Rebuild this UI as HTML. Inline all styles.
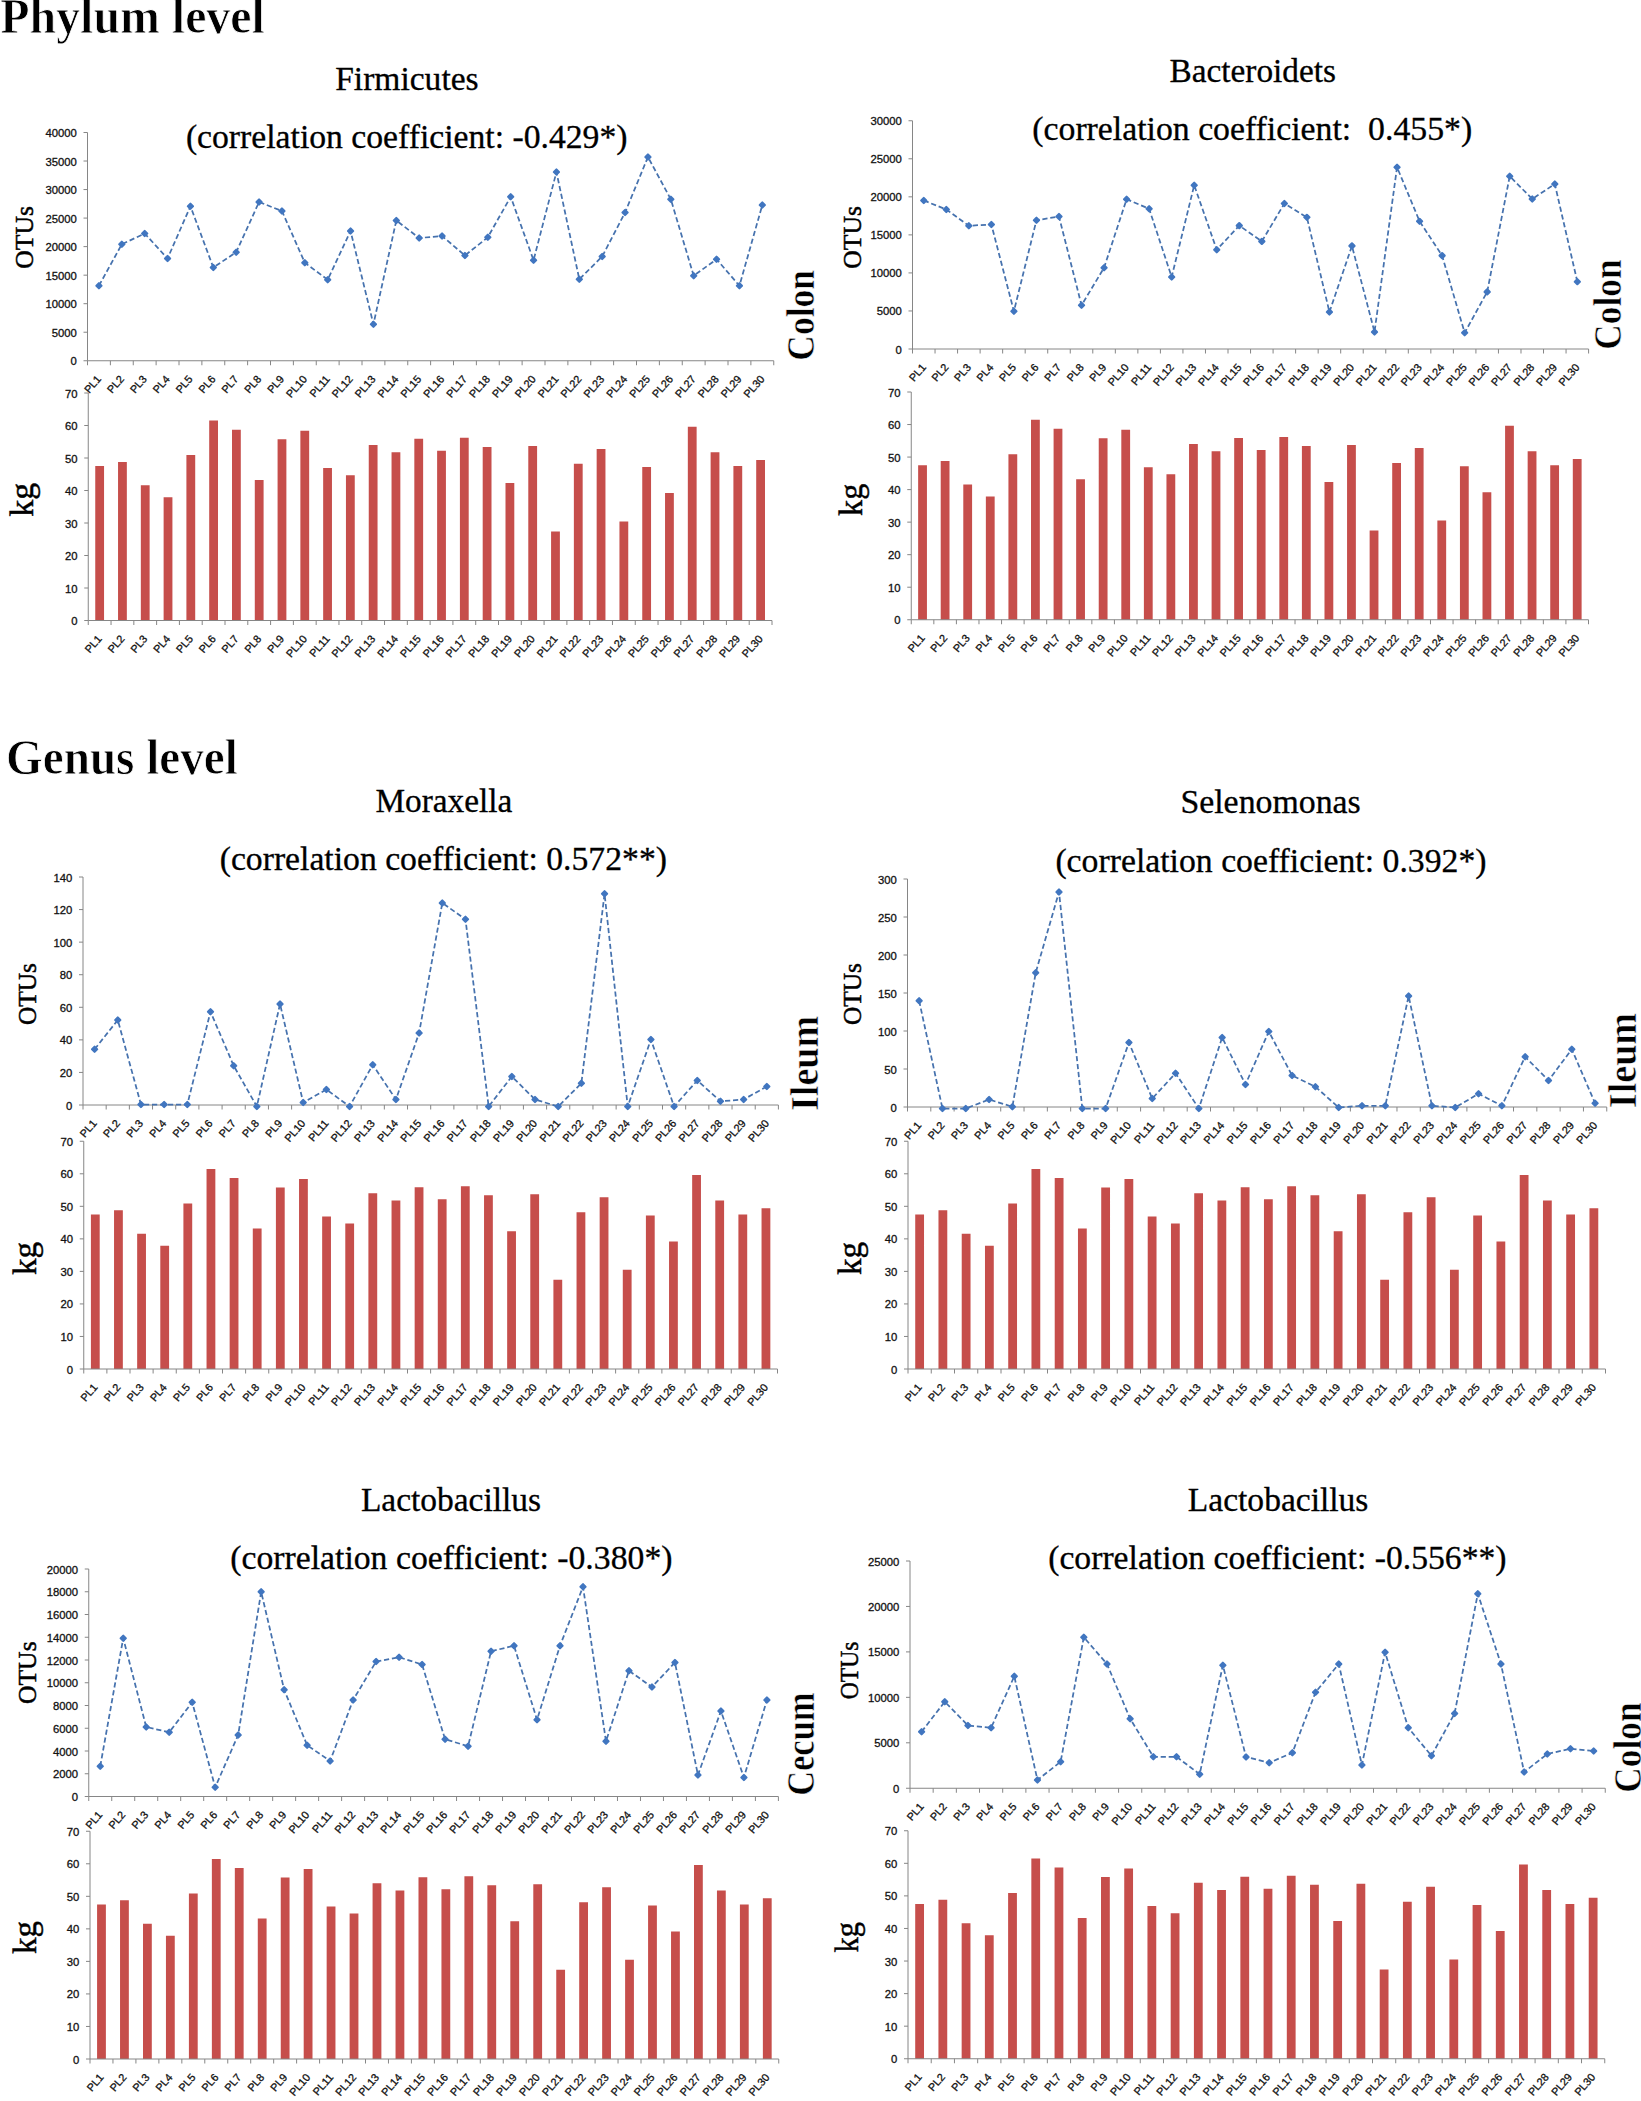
<!DOCTYPE html>
<html lang="en">
<head>
<meta charset="utf-8">
<title>Phylum and genus level correlations</title>
<style>
html,body{margin:0;padding:0;background:#fff}
body{width:1641px;height:2101px;overflow:hidden}
svg{display:block}
text{fill:#000}
.hd{font-family:"Liberation Serif","DejaVu Serif",serif;font-weight:bold;font-size:50px;stroke:#fff;stroke-width:.8px}
.ti{font-family:"Liberation Serif","DejaVu Serif",serif;font-size:33px;stroke:#000;stroke-width:.3px}
.yl{font-family:"Liberation Serif","DejaVu Serif",serif;font-size:25.5px;stroke:#000;stroke-width:.5px}
.kg{font-family:"Liberation Serif","DejaVu Serif",serif;font-size:33px;stroke:#000;stroke-width:.45px}
.sd{font-family:"Liberation Serif","DejaVu Serif",serif;font-weight:bold;font-size:40px;stroke:#fff;stroke-width:.6px}
.tk text{font-family:"Liberation Sans","DejaVu Sans",sans-serif;font-size:11.3px;fill:#111;stroke:#111;stroke-width:.3px}
.ct text{font-family:"Liberation Sans","DejaVu Sans",sans-serif;font-size:10.8px;fill:#111;stroke:#111;stroke-width:.3px}
</style>
</head>
<body>
<svg width="1641" height="2101" viewBox="0 0 1641 2101">
<rect width="1641" height="2101" fill="#fff"/>
<!-- Firmicutes Colon -->
<text class="ti" transform="translate(335.2 90.4) scale(1.0163 1)">Firmicutes</text>
<text class="ti" transform="translate(185.88 148.4) scale(1.0209 1)">(correlation coefficient: -0.429*)</text>
<path d="M87.5 132.5V360.75H773.75" fill="none" stroke="#868686" stroke-width="1"/>
<path d="M83.5 360.75H87.5M83.5 332.22H87.5M83.5 303.69H87.5M83.5 275.16H87.5M83.5 246.62H87.5M83.5 218.09H87.5M83.5 189.56H87.5M83.5 161.03H87.5M83.5 132.5H87.5M87.5 360.75V365.25M110.38 360.75V365.25M133.25 360.75V365.25M156.12 360.75V365.25M179 360.75V365.25M201.88 360.75V365.25M224.75 360.75V365.25M247.62 360.75V365.25M270.5 360.75V365.25M293.38 360.75V365.25M316.25 360.75V365.25M339.12 360.75V365.25M362 360.75V365.25M384.88 360.75V365.25M407.75 360.75V365.25M430.62 360.75V365.25M453.5 360.75V365.25M476.38 360.75V365.25M499.25 360.75V365.25M522.12 360.75V365.25M545 360.75V365.25M567.88 360.75V365.25M590.75 360.75V365.25M613.62 360.75V365.25M636.5 360.75V365.25M659.38 360.75V365.25M682.25 360.75V365.25M705.12 360.75V365.25M728 360.75V365.25M750.88 360.75V365.25M773.75 360.75V365.25" fill="none" stroke="#868686" stroke-width="1"/>
<g class="tk" text-anchor="end">
<text x="76.9" y="365.25">0</text>
<text x="76.9" y="336.72">5000</text>
<text x="76.9" y="308.19">10000</text>
<text x="76.9" y="279.66">15000</text>
<text x="76.9" y="251.12">20000</text>
<text x="76.9" y="222.59">25000</text>
<text x="76.9" y="194.06">30000</text>
<text x="76.9" y="165.53">35000</text>
<text x="76.9" y="137">40000</text>
</g>
<g class="ct" text-anchor="end">
<text transform="translate(101.74 379.45) rotate(-49)">PL1</text>
<text transform="translate(124.61 379.45) rotate(-49)">PL2</text>
<text transform="translate(147.49 379.45) rotate(-49)">PL3</text>
<text transform="translate(170.36 379.45) rotate(-49)">PL4</text>
<text transform="translate(193.24 379.45) rotate(-49)">PL5</text>
<text transform="translate(216.11 379.45) rotate(-49)">PL6</text>
<text transform="translate(238.99 379.45) rotate(-49)">PL7</text>
<text transform="translate(261.86 379.45) rotate(-49)">PL8</text>
<text transform="translate(284.74 379.45) rotate(-49)">PL9</text>
<text transform="translate(307.61 379.45) rotate(-49)">PL10</text>
<text transform="translate(330.49 379.45) rotate(-49)">PL11</text>
<text transform="translate(353.36 379.45) rotate(-49)">PL12</text>
<text transform="translate(376.24 379.45) rotate(-49)">PL13</text>
<text transform="translate(399.11 379.45) rotate(-49)">PL14</text>
<text transform="translate(421.99 379.45) rotate(-49)">PL15</text>
<text transform="translate(444.86 379.45) rotate(-49)">PL16</text>
<text transform="translate(467.74 379.45) rotate(-49)">PL17</text>
<text transform="translate(490.61 379.45) rotate(-49)">PL18</text>
<text transform="translate(513.49 379.45) rotate(-49)">PL19</text>
<text transform="translate(536.36 379.45) rotate(-49)">PL20</text>
<text transform="translate(559.24 379.45) rotate(-49)">PL21</text>
<text transform="translate(582.11 379.45) rotate(-49)">PL22</text>
<text transform="translate(604.99 379.45) rotate(-49)">PL23</text>
<text transform="translate(627.86 379.45) rotate(-49)">PL24</text>
<text transform="translate(650.74 379.45) rotate(-49)">PL25</text>
<text transform="translate(673.61 379.45) rotate(-49)">PL26</text>
<text transform="translate(696.49 379.45) rotate(-49)">PL27</text>
<text transform="translate(719.36 379.45) rotate(-49)">PL28</text>
<text transform="translate(742.24 379.45) rotate(-49)">PL29</text>
<text transform="translate(765.11 379.45) rotate(-49)">PL30</text>
</g>
<polyline points="98.94,285.75 121.81,244.25 144.69,233.5 167.56,258.5 190.44,206.25 213.31,267.5 236.19,252.25 259.06,202 281.94,211 304.81,262.75 327.69,279.75 350.56,231 373.44,324.25 396.31,220.5 419.19,238 442.06,236 464.94,255.5 487.81,237.25 510.69,196.75 533.56,260.25 556.44,172 579.31,279.25 602.19,256.5 625.06,212.5 647.94,157 670.81,199.25 693.69,275.75 716.56,259.25 739.44,285.75 762.31,205" fill="none" stroke="#4672AE" stroke-width="1.75" stroke-dasharray="5.2 2.8"/>
<path d="M98.94 283.25L101.44 285.75L98.94 288.25L96.44 285.75ZM121.81 241.75L124.31 244.25L121.81 246.75L119.31 244.25ZM144.69 231L147.19 233.5L144.69 236L142.19 233.5ZM167.56 256L170.06 258.5L167.56 261L165.06 258.5ZM190.44 203.75L192.94 206.25L190.44 208.75L187.94 206.25ZM213.31 265L215.81 267.5L213.31 270L210.81 267.5ZM236.19 249.75L238.69 252.25L236.19 254.75L233.69 252.25ZM259.06 199.5L261.56 202L259.06 204.5L256.56 202ZM281.94 208.5L284.44 211L281.94 213.5L279.44 211ZM304.81 260.25L307.31 262.75L304.81 265.25L302.31 262.75ZM327.69 277.25L330.19 279.75L327.69 282.25L325.19 279.75ZM350.56 228.5L353.06 231L350.56 233.5L348.06 231ZM373.44 321.75L375.94 324.25L373.44 326.75L370.94 324.25ZM396.31 218L398.81 220.5L396.31 223L393.81 220.5ZM419.19 235.5L421.69 238L419.19 240.5L416.69 238ZM442.06 233.5L444.56 236L442.06 238.5L439.56 236ZM464.94 253L467.44 255.5L464.94 258L462.44 255.5ZM487.81 234.75L490.31 237.25L487.81 239.75L485.31 237.25ZM510.69 194.25L513.19 196.75L510.69 199.25L508.19 196.75ZM533.56 257.75L536.06 260.25L533.56 262.75L531.06 260.25ZM556.44 169.5L558.94 172L556.44 174.5L553.94 172ZM579.31 276.75L581.81 279.25L579.31 281.75L576.81 279.25ZM602.19 254L604.69 256.5L602.19 259L599.69 256.5ZM625.06 210L627.56 212.5L625.06 215L622.56 212.5ZM647.94 154.5L650.44 157L647.94 159.5L645.44 157ZM670.81 196.75L673.31 199.25L670.81 201.75L668.31 199.25ZM693.69 273.25L696.19 275.75L693.69 278.25L691.19 275.75ZM716.56 256.75L719.06 259.25L716.56 261.75L714.06 259.25ZM739.44 283.25L741.94 285.75L739.44 288.25L736.94 285.75ZM762.31 202.5L764.81 205L762.31 207.5L759.81 205Z" fill="#4176C0" stroke="#4176C0" stroke-width="2.2" stroke-linejoin="round"/>
<text class="yl" transform="translate(32.6 268.71) rotate(-90) scale(1.0065 1)">OTUs</text>
<text class="sd" transform="translate(813.9 360.69) rotate(-90) scale(0.8881 1)">Colon</text>
<path d="M95.25 620.5v-154.38h8.8v154.38zM118.04 620.5v-158.6h8.8v158.6zM140.83 620.5v-135.2h8.8v135.2zM163.62 620.5v-123.17h8.8v123.17zM186.41 620.5v-165.43h8.8v165.43zM209.2 620.5v-199.88h8.8v199.88zM232 620.5v-190.78h8.8v190.78zM254.79 620.5v-140.4h8.8v140.4zM277.58 620.5v-181.35h8.8v181.35zM300.37 620.5v-189.8h8.8v189.8zM323.16 620.5v-152.43h8.8v152.43zM345.95 620.5v-145.28h8.8v145.28zM368.75 620.5v-175.5h8.8v175.5zM391.54 620.5v-168.35h8.8v168.35zM414.33 620.5v-181.68h8.8v181.68zM437.12 620.5v-169.65h8.8v169.65zM459.91 620.5v-182.65h8.8v182.65zM482.7 620.5v-173.55h8.8v173.55zM505.5 620.5v-137.47h8.8v137.47zM528.29 620.5v-174.53h8.8v174.53zM551.08 620.5v-89.05h8.8v89.05zM573.87 620.5v-156.65h8.8v156.65zM596.66 620.5v-171.6h8.8v171.6zM619.45 620.5v-99.12h8.8v99.12zM642.25 620.5v-153.4h8.8v153.4zM665.04 620.5v-127.4h8.8v127.4zM687.83 620.5v-193.7h8.8v193.7zM710.62 620.5v-168.35h8.8v168.35zM733.41 620.5v-154.38h8.8v154.38zM756.2 620.5v-160.55h8.8v160.55z" fill="#C64E4B"/>
<path d="M88.25 393V620.5H772" fill="none" stroke="#868686" stroke-width="1"/>
<path d="M84.25 620.5H88.25M84.25 588H88.25M84.25 555.5H88.25M84.25 523H88.25M84.25 490.5H88.25M84.25 458H88.25M84.25 425.5H88.25M84.25 393H88.25M88.25 620.5V625M111.04 620.5V625M133.83 620.5V625M156.62 620.5V625M179.42 620.5V625M202.21 620.5V625M225 620.5V625M247.79 620.5V625M270.58 620.5V625M293.38 620.5V625M316.17 620.5V625M338.96 620.5V625M361.75 620.5V625M384.54 620.5V625M407.33 620.5V625M430.12 620.5V625M452.92 620.5V625M475.71 620.5V625M498.5 620.5V625M521.29 620.5V625M544.08 620.5V625M566.88 620.5V625M589.67 620.5V625M612.46 620.5V625M635.25 620.5V625M658.04 620.5V625M680.83 620.5V625M703.62 620.5V625M726.42 620.5V625M749.21 620.5V625M772 620.5V625" fill="none" stroke="#868686" stroke-width="1"/>
<g class="tk" text-anchor="end">
<text x="77.65" y="625">0</text>
<text x="77.65" y="592.5">10</text>
<text x="77.65" y="560">20</text>
<text x="77.65" y="527.5">30</text>
<text x="77.65" y="495">40</text>
<text x="77.65" y="462.5">50</text>
<text x="77.65" y="430">60</text>
<text x="77.65" y="397.5">70</text>
</g>
<g class="ct" text-anchor="end">
<text transform="translate(102.45 639.2) rotate(-49)">PL1</text>
<text transform="translate(125.24 639.2) rotate(-49)">PL2</text>
<text transform="translate(148.03 639.2) rotate(-49)">PL3</text>
<text transform="translate(170.82 639.2) rotate(-49)">PL4</text>
<text transform="translate(193.61 639.2) rotate(-49)">PL5</text>
<text transform="translate(216.4 639.2) rotate(-49)">PL6</text>
<text transform="translate(239.2 639.2) rotate(-49)">PL7</text>
<text transform="translate(261.99 639.2) rotate(-49)">PL8</text>
<text transform="translate(284.78 639.2) rotate(-49)">PL9</text>
<text transform="translate(307.57 639.2) rotate(-49)">PL10</text>
<text transform="translate(330.36 639.2) rotate(-49)">PL11</text>
<text transform="translate(353.15 639.2) rotate(-49)">PL12</text>
<text transform="translate(375.95 639.2) rotate(-49)">PL13</text>
<text transform="translate(398.74 639.2) rotate(-49)">PL14</text>
<text transform="translate(421.53 639.2) rotate(-49)">PL15</text>
<text transform="translate(444.32 639.2) rotate(-49)">PL16</text>
<text transform="translate(467.11 639.2) rotate(-49)">PL17</text>
<text transform="translate(489.9 639.2) rotate(-49)">PL18</text>
<text transform="translate(512.7 639.2) rotate(-49)">PL19</text>
<text transform="translate(535.49 639.2) rotate(-49)">PL20</text>
<text transform="translate(558.28 639.2) rotate(-49)">PL21</text>
<text transform="translate(581.07 639.2) rotate(-49)">PL22</text>
<text transform="translate(603.86 639.2) rotate(-49)">PL23</text>
<text transform="translate(626.65 639.2) rotate(-49)">PL24</text>
<text transform="translate(649.45 639.2) rotate(-49)">PL25</text>
<text transform="translate(672.24 639.2) rotate(-49)">PL26</text>
<text transform="translate(695.03 639.2) rotate(-49)">PL27</text>
<text transform="translate(717.82 639.2) rotate(-49)">PL28</text>
<text transform="translate(740.61 639.2) rotate(-49)">PL29</text>
<text transform="translate(763.4 639.2) rotate(-49)">PL30</text>
</g>
<text class="kg" transform="translate(33.4 516.7) rotate(-90) scale(1.0277 1)">kg</text>
<!-- Bacteroidets Colon -->
<text class="ti" transform="translate(1169.45 81.9) scale(1.0098 1)">Bacteroidets</text>
<text class="ti" transform="translate(1032.28 139.9) scale(1.0230 1)">(correlation coefficient:  0.455*)</text>
<path d="M912.5 120.75V349H1588.6" fill="none" stroke="#868686" stroke-width="1"/>
<path d="M908.5 349H912.5M908.5 310.96H912.5M908.5 272.92H912.5M908.5 234.88H912.5M908.5 196.83H912.5M908.5 158.79H912.5M908.5 120.75H912.5M912.5 349V353.5M935.04 349V353.5M957.57 349V353.5M980.11 349V353.5M1002.65 349V353.5M1025.18 349V353.5M1047.72 349V353.5M1070.26 349V353.5M1092.79 349V353.5M1115.33 349V353.5M1137.87 349V353.5M1160.4 349V353.5M1182.94 349V353.5M1205.48 349V353.5M1228.01 349V353.5M1250.55 349V353.5M1273.09 349V353.5M1295.62 349V353.5M1318.16 349V353.5M1340.7 349V353.5M1363.23 349V353.5M1385.77 349V353.5M1408.31 349V353.5M1430.84 349V353.5M1453.38 349V353.5M1475.92 349V353.5M1498.45 349V353.5M1520.99 349V353.5M1543.53 349V353.5M1566.06 349V353.5M1588.6 349V353.5" fill="none" stroke="#868686" stroke-width="1"/>
<g class="tk" text-anchor="end">
<text x="901.9" y="353.5">0</text>
<text x="901.9" y="315.46">5000</text>
<text x="901.9" y="277.42">10000</text>
<text x="901.9" y="239.38">15000</text>
<text x="901.9" y="201.33">20000</text>
<text x="901.9" y="163.29">25000</text>
<text x="901.9" y="125.25">30000</text>
</g>
<g class="ct" text-anchor="end">
<text transform="translate(926.57 367.7) rotate(-49)">PL1</text>
<text transform="translate(949.1 367.7) rotate(-49)">PL2</text>
<text transform="translate(971.64 367.7) rotate(-49)">PL3</text>
<text transform="translate(994.18 367.7) rotate(-49)">PL4</text>
<text transform="translate(1016.71 367.7) rotate(-49)">PL5</text>
<text transform="translate(1039.25 367.7) rotate(-49)">PL6</text>
<text transform="translate(1061.79 367.7) rotate(-49)">PL7</text>
<text transform="translate(1084.33 367.7) rotate(-49)">PL8</text>
<text transform="translate(1106.86 367.7) rotate(-49)">PL9</text>
<text transform="translate(1129.4 367.7) rotate(-49)">PL10</text>
<text transform="translate(1151.93 367.7) rotate(-49)">PL11</text>
<text transform="translate(1174.47 367.7) rotate(-49)">PL12</text>
<text transform="translate(1197.01 367.7) rotate(-49)">PL13</text>
<text transform="translate(1219.54 367.7) rotate(-49)">PL14</text>
<text transform="translate(1242.08 367.7) rotate(-49)">PL15</text>
<text transform="translate(1264.62 367.7) rotate(-49)">PL16</text>
<text transform="translate(1287.15 367.7) rotate(-49)">PL17</text>
<text transform="translate(1309.69 367.7) rotate(-49)">PL18</text>
<text transform="translate(1332.23 367.7) rotate(-49)">PL19</text>
<text transform="translate(1354.76 367.7) rotate(-49)">PL20</text>
<text transform="translate(1377.3 367.7) rotate(-49)">PL21</text>
<text transform="translate(1399.84 367.7) rotate(-49)">PL22</text>
<text transform="translate(1422.38 367.7) rotate(-49)">PL23</text>
<text transform="translate(1444.91 367.7) rotate(-49)">PL24</text>
<text transform="translate(1467.45 367.7) rotate(-49)">PL25</text>
<text transform="translate(1489.98 367.7) rotate(-49)">PL26</text>
<text transform="translate(1512.52 367.7) rotate(-49)">PL27</text>
<text transform="translate(1535.06 367.7) rotate(-49)">PL28</text>
<text transform="translate(1557.6 367.7) rotate(-49)">PL29</text>
<text transform="translate(1580.13 367.7) rotate(-49)">PL30</text>
</g>
<polyline points="923.77,200.5 946.3,209.5 968.84,225.75 991.38,224.5 1013.91,311.25 1036.45,220.25 1058.99,216.5 1081.53,305.25 1104.06,267.75 1126.6,199.25 1149.13,208.75 1171.67,277 1194.21,185.25 1216.74,249.75 1239.28,225.6 1261.82,241.4 1284.36,203.5 1306.89,217.3 1329.43,312 1351.96,245.9 1374.5,332 1397.04,167.2 1419.58,221.3 1442.11,255.6 1464.65,332.8 1487.18,291.9 1509.72,176.2 1532.26,199 1554.8,184 1577.33,281.7" fill="none" stroke="#4672AE" stroke-width="1.75" stroke-dasharray="5.2 2.8"/>
<path d="M923.77 198L926.27 200.5L923.77 203L921.27 200.5ZM946.3 207L948.8 209.5L946.3 212L943.8 209.5ZM968.84 223.25L971.34 225.75L968.84 228.25L966.34 225.75ZM991.38 222L993.88 224.5L991.38 227L988.88 224.5ZM1013.91 308.75L1016.41 311.25L1013.91 313.75L1011.41 311.25ZM1036.45 217.75L1038.95 220.25L1036.45 222.75L1033.95 220.25ZM1058.99 214L1061.49 216.5L1058.99 219L1056.49 216.5ZM1081.53 302.75L1084.03 305.25L1081.53 307.75L1079.03 305.25ZM1104.06 265.25L1106.56 267.75L1104.06 270.25L1101.56 267.75ZM1126.6 196.75L1129.1 199.25L1126.6 201.75L1124.1 199.25ZM1149.13 206.25L1151.63 208.75L1149.13 211.25L1146.63 208.75ZM1171.67 274.5L1174.17 277L1171.67 279.5L1169.17 277ZM1194.21 182.75L1196.71 185.25L1194.21 187.75L1191.71 185.25ZM1216.74 247.25L1219.24 249.75L1216.74 252.25L1214.24 249.75ZM1239.28 223.1L1241.78 225.6L1239.28 228.1L1236.78 225.6ZM1261.82 238.9L1264.32 241.4L1261.82 243.9L1259.32 241.4ZM1284.36 201L1286.86 203.5L1284.36 206L1281.86 203.5ZM1306.89 214.8L1309.39 217.3L1306.89 219.8L1304.39 217.3ZM1329.43 309.5L1331.93 312L1329.43 314.5L1326.93 312ZM1351.96 243.4L1354.46 245.9L1351.96 248.4L1349.46 245.9ZM1374.5 329.5L1377 332L1374.5 334.5L1372 332ZM1397.04 164.7L1399.54 167.2L1397.04 169.7L1394.54 167.2ZM1419.58 218.8L1422.08 221.3L1419.58 223.8L1417.08 221.3ZM1442.11 253.1L1444.61 255.6L1442.11 258.1L1439.61 255.6ZM1464.65 330.3L1467.15 332.8L1464.65 335.3L1462.15 332.8ZM1487.18 289.4L1489.68 291.9L1487.18 294.4L1484.68 291.9ZM1509.72 173.7L1512.22 176.2L1509.72 178.7L1507.22 176.2ZM1532.26 196.5L1534.76 199L1532.26 201.5L1529.76 199ZM1554.8 181.5L1557.3 184L1554.8 186.5L1552.3 184ZM1577.33 279.2L1579.83 281.7L1577.33 284.2L1574.83 281.7Z" fill="#4176C0" stroke="#4176C0" stroke-width="2.2" stroke-linejoin="round"/>
<text class="yl" transform="translate(861.2 268.71) rotate(-90) scale(1.0065 1)">OTUs</text>
<text class="sd" transform="translate(1620.9 349.68) rotate(-90) scale(0.8842 1)">Colon</text>
<path d="M918.14 619.75v-154.54h8.8v154.54zM940.71 619.75v-158.77h8.8v158.77zM963.29 619.75v-135.35h8.8v135.35zM985.86 619.75v-123.31h8.8v123.31zM1008.44 619.75v-165.61h8.8v165.61zM1031.01 619.75v-200.09h8.8v200.09zM1053.59 619.75v-190.98h8.8v190.98zM1076.16 619.75v-140.55h8.8v140.55zM1098.74 619.75v-181.55h8.8v181.55zM1121.31 619.75v-190.01h8.8v190.01zM1143.89 619.75v-152.59h8.8v152.59zM1166.46 619.75v-145.43h8.8v145.43zM1189.04 619.75v-175.69h8.8v175.69zM1211.61 619.75v-168.53h8.8v168.53zM1234.19 619.75v-181.87h8.8v181.87zM1256.76 619.75v-169.84h8.8v169.84zM1279.34 619.75v-182.85h8.8v182.85zM1301.91 619.75v-173.74h8.8v173.74zM1324.49 619.75v-137.63h8.8v137.63zM1347.06 619.75v-174.72h8.8v174.72zM1369.64 619.75v-89.15h8.8v89.15zM1392.21 619.75v-156.82h8.8v156.82zM1414.79 619.75v-171.79h8.8v171.79zM1437.36 619.75v-99.23h8.8v99.23zM1459.94 619.75v-153.57h8.8v153.57zM1482.51 619.75v-127.54h8.8v127.54zM1505.09 619.75v-193.91h8.8v193.91zM1527.66 619.75v-168.53h8.8v168.53zM1550.24 619.75v-154.54h8.8v154.54zM1572.81 619.75v-160.73h8.8v160.73z" fill="#C64E4B"/>
<path d="M911.25 392V619.75H1588.5" fill="none" stroke="#868686" stroke-width="1"/>
<path d="M907.25 619.75H911.25M907.25 587.21H911.25M907.25 554.68H911.25M907.25 522.14H911.25M907.25 489.61H911.25M907.25 457.07H911.25M907.25 424.54H911.25M907.25 392H911.25M911.25 619.75V624.25M933.83 619.75V624.25M956.4 619.75V624.25M978.98 619.75V624.25M1001.55 619.75V624.25M1024.12 619.75V624.25M1046.7 619.75V624.25M1069.28 619.75V624.25M1091.85 619.75V624.25M1114.42 619.75V624.25M1137 619.75V624.25M1159.58 619.75V624.25M1182.15 619.75V624.25M1204.72 619.75V624.25M1227.3 619.75V624.25M1249.88 619.75V624.25M1272.45 619.75V624.25M1295.03 619.75V624.25M1317.6 619.75V624.25M1340.17 619.75V624.25M1362.75 619.75V624.25M1385.33 619.75V624.25M1407.9 619.75V624.25M1430.47 619.75V624.25M1453.05 619.75V624.25M1475.62 619.75V624.25M1498.2 619.75V624.25M1520.78 619.75V624.25M1543.35 619.75V624.25M1565.92 619.75V624.25M1588.5 619.75V624.25" fill="none" stroke="#868686" stroke-width="1"/>
<g class="tk" text-anchor="end">
<text x="900.65" y="624.25">0</text>
<text x="900.65" y="591.71">10</text>
<text x="900.65" y="559.18">20</text>
<text x="900.65" y="526.64">30</text>
<text x="900.65" y="494.11">40</text>
<text x="900.65" y="461.57">50</text>
<text x="900.65" y="429.04">60</text>
<text x="900.65" y="396.5">70</text>
</g>
<g class="ct" text-anchor="end">
<text transform="translate(925.34 638.45) rotate(-49)">PL1</text>
<text transform="translate(947.91 638.45) rotate(-49)">PL2</text>
<text transform="translate(970.49 638.45) rotate(-49)">PL3</text>
<text transform="translate(993.06 638.45) rotate(-49)">PL4</text>
<text transform="translate(1015.64 638.45) rotate(-49)">PL5</text>
<text transform="translate(1038.21 638.45) rotate(-49)">PL6</text>
<text transform="translate(1060.79 638.45) rotate(-49)">PL7</text>
<text transform="translate(1083.36 638.45) rotate(-49)">PL8</text>
<text transform="translate(1105.94 638.45) rotate(-49)">PL9</text>
<text transform="translate(1128.51 638.45) rotate(-49)">PL10</text>
<text transform="translate(1151.09 638.45) rotate(-49)">PL11</text>
<text transform="translate(1173.66 638.45) rotate(-49)">PL12</text>
<text transform="translate(1196.24 638.45) rotate(-49)">PL13</text>
<text transform="translate(1218.81 638.45) rotate(-49)">PL14</text>
<text transform="translate(1241.39 638.45) rotate(-49)">PL15</text>
<text transform="translate(1263.96 638.45) rotate(-49)">PL16</text>
<text transform="translate(1286.54 638.45) rotate(-49)">PL17</text>
<text transform="translate(1309.11 638.45) rotate(-49)">PL18</text>
<text transform="translate(1331.69 638.45) rotate(-49)">PL19</text>
<text transform="translate(1354.26 638.45) rotate(-49)">PL20</text>
<text transform="translate(1376.84 638.45) rotate(-49)">PL21</text>
<text transform="translate(1399.41 638.45) rotate(-49)">PL22</text>
<text transform="translate(1421.99 638.45) rotate(-49)">PL23</text>
<text transform="translate(1444.56 638.45) rotate(-49)">PL24</text>
<text transform="translate(1467.14 638.45) rotate(-49)">PL25</text>
<text transform="translate(1489.71 638.45) rotate(-49)">PL26</text>
<text transform="translate(1512.29 638.45) rotate(-49)">PL27</text>
<text transform="translate(1534.86 638.45) rotate(-49)">PL28</text>
<text transform="translate(1557.44 638.45) rotate(-49)">PL29</text>
<text transform="translate(1580.01 638.45) rotate(-49)">PL30</text>
</g>
<text class="kg" transform="translate(861.7 515.9) rotate(-90) scale(0.9754 1)">kg</text>
<!-- Moraxella Ileum -->
<text class="ti" transform="translate(375.4 811.9) scale(1.0091 1)">Moraxella</text>
<text class="ti" transform="translate(219.68 869.9) scale(1.0211 1)">(correlation coefficient: 0.572**)</text>
<path d="M83 877V1105H778.4" fill="none" stroke="#868686" stroke-width="1"/>
<path d="M79 1105H83M79 1072.43H83M79 1039.86H83M79 1007.29H83M79 974.71H83M79 942.14H83M79 909.57H83M79 877H83M83 1105V1109.5M106.18 1105V1109.5M129.36 1105V1109.5M152.54 1105V1109.5M175.72 1105V1109.5M198.9 1105V1109.5M222.08 1105V1109.5M245.26 1105V1109.5M268.44 1105V1109.5M291.62 1105V1109.5M314.8 1105V1109.5M337.98 1105V1109.5M361.16 1105V1109.5M384.34 1105V1109.5M407.52 1105V1109.5M430.7 1105V1109.5M453.88 1105V1109.5M477.06 1105V1109.5M500.24 1105V1109.5M523.42 1105V1109.5M546.6 1105V1109.5M569.78 1105V1109.5M592.96 1105V1109.5M616.14 1105V1109.5M639.32 1105V1109.5M662.5 1105V1109.5M685.68 1105V1109.5M708.86 1105V1109.5M732.04 1105V1109.5M755.22 1105V1109.5M778.4 1105V1109.5" fill="none" stroke="#868686" stroke-width="1"/>
<g class="tk" text-anchor="end">
<text x="72.4" y="1109.5">0</text>
<text x="72.4" y="1076.93">20</text>
<text x="72.4" y="1044.36">40</text>
<text x="72.4" y="1011.79">60</text>
<text x="72.4" y="979.21">80</text>
<text x="72.4" y="946.64">100</text>
<text x="72.4" y="914.07">120</text>
<text x="72.4" y="881.5">140</text>
</g>
<g class="ct" text-anchor="end">
<text transform="translate(97.39 1123.7) rotate(-49)">PL1</text>
<text transform="translate(120.57 1123.7) rotate(-49)">PL2</text>
<text transform="translate(143.75 1123.7) rotate(-49)">PL3</text>
<text transform="translate(166.93 1123.7) rotate(-49)">PL4</text>
<text transform="translate(190.11 1123.7) rotate(-49)">PL5</text>
<text transform="translate(213.29 1123.7) rotate(-49)">PL6</text>
<text transform="translate(236.47 1123.7) rotate(-49)">PL7</text>
<text transform="translate(259.65 1123.7) rotate(-49)">PL8</text>
<text transform="translate(282.83 1123.7) rotate(-49)">PL9</text>
<text transform="translate(306.01 1123.7) rotate(-49)">PL10</text>
<text transform="translate(329.19 1123.7) rotate(-49)">PL11</text>
<text transform="translate(352.37 1123.7) rotate(-49)">PL12</text>
<text transform="translate(375.55 1123.7) rotate(-49)">PL13</text>
<text transform="translate(398.73 1123.7) rotate(-49)">PL14</text>
<text transform="translate(421.91 1123.7) rotate(-49)">PL15</text>
<text transform="translate(445.09 1123.7) rotate(-49)">PL16</text>
<text transform="translate(468.27 1123.7) rotate(-49)">PL17</text>
<text transform="translate(491.45 1123.7) rotate(-49)">PL18</text>
<text transform="translate(514.63 1123.7) rotate(-49)">PL19</text>
<text transform="translate(537.81 1123.7) rotate(-49)">PL20</text>
<text transform="translate(560.99 1123.7) rotate(-49)">PL21</text>
<text transform="translate(584.17 1123.7) rotate(-49)">PL22</text>
<text transform="translate(607.35 1123.7) rotate(-49)">PL23</text>
<text transform="translate(630.53 1123.7) rotate(-49)">PL24</text>
<text transform="translate(653.71 1123.7) rotate(-49)">PL25</text>
<text transform="translate(676.89 1123.7) rotate(-49)">PL26</text>
<text transform="translate(700.07 1123.7) rotate(-49)">PL27</text>
<text transform="translate(723.25 1123.7) rotate(-49)">PL28</text>
<text transform="translate(746.43 1123.7) rotate(-49)">PL29</text>
<text transform="translate(769.61 1123.7) rotate(-49)">PL30</text>
</g>
<polyline points="94.59,1049.25 117.77,1020 140.95,1104.5 164.13,1104.5 187.31,1104.5 210.49,1011.75 233.67,1065.75 256.85,1106.5 280.03,1004 303.21,1102.5 326.39,1089.5 349.57,1106.5 372.75,1064.75 395.93,1099.5 419.11,1033 442.29,903 465.47,919.25 488.65,1106.5 511.83,1076.5 535.01,1099.5 558.19,1106.5 581.37,1083.25 604.55,893.75 627.73,1106.5 650.91,1039.5 674.09,1106.5 697.27,1080.5 720.45,1101.25 743.63,1099.5 766.81,1086.5" fill="none" stroke="#4672AE" stroke-width="1.75" stroke-dasharray="5.2 2.8"/>
<path d="M94.59 1046.75L97.09 1049.25L94.59 1051.75L92.09 1049.25ZM117.77 1017.5L120.27 1020L117.77 1022.5L115.27 1020ZM140.95 1102L143.45 1104.5L140.95 1107L138.45 1104.5ZM164.13 1102L166.63 1104.5L164.13 1107L161.63 1104.5ZM187.31 1102L189.81 1104.5L187.31 1107L184.81 1104.5ZM210.49 1009.25L212.99 1011.75L210.49 1014.25L207.99 1011.75ZM233.67 1063.25L236.17 1065.75L233.67 1068.25L231.17 1065.75ZM256.85 1104L259.35 1106.5L256.85 1109L254.35 1106.5ZM280.03 1001.5L282.53 1004L280.03 1006.5L277.53 1004ZM303.21 1100L305.71 1102.5L303.21 1105L300.71 1102.5ZM326.39 1087L328.89 1089.5L326.39 1092L323.89 1089.5ZM349.57 1104L352.07 1106.5L349.57 1109L347.07 1106.5ZM372.75 1062.25L375.25 1064.75L372.75 1067.25L370.25 1064.75ZM395.93 1097L398.43 1099.5L395.93 1102L393.43 1099.5ZM419.11 1030.5L421.61 1033L419.11 1035.5L416.61 1033ZM442.29 900.5L444.79 903L442.29 905.5L439.79 903ZM465.47 916.75L467.97 919.25L465.47 921.75L462.97 919.25ZM488.65 1104L491.15 1106.5L488.65 1109L486.15 1106.5ZM511.83 1074L514.33 1076.5L511.83 1079L509.33 1076.5ZM535.01 1097L537.51 1099.5L535.01 1102L532.51 1099.5ZM558.19 1104L560.69 1106.5L558.19 1109L555.69 1106.5ZM581.37 1080.75L583.87 1083.25L581.37 1085.75L578.87 1083.25ZM604.55 891.25L607.05 893.75L604.55 896.25L602.05 893.75ZM627.73 1104L630.23 1106.5L627.73 1109L625.23 1106.5ZM650.91 1037L653.41 1039.5L650.91 1042L648.41 1039.5ZM674.09 1104L676.59 1106.5L674.09 1109L671.59 1106.5ZM697.27 1078L699.77 1080.5L697.27 1083L694.77 1080.5ZM720.45 1098.75L722.95 1101.25L720.45 1103.75L717.95 1101.25ZM743.63 1097L746.13 1099.5L743.63 1102L741.13 1099.5ZM766.81 1084L769.31 1086.5L766.81 1089L764.31 1086.5Z" fill="#4176C0" stroke="#4176C0" stroke-width="2.2" stroke-linejoin="round"/>
<text class="yl" transform="translate(35.6 1024.99) rotate(-90) scale(0.9933 1)">OTUs</text>
<text class="sd" transform="translate(817.9 1110.95) rotate(-90) scale(0.9526 1)">Ileum</text>
<path d="M90.91 1369v-154.54h8.8v154.54zM114.04 1369v-158.77h8.8v158.77zM137.16 1369v-135.35h8.8v135.35zM160.29 1369v-123.31h8.8v123.31zM183.41 1369v-165.61h8.8v165.61zM206.54 1369v-200.09h8.8v200.09zM229.66 1369v-190.98h8.8v190.98zM252.79 1369v-140.55h8.8v140.55zM275.91 1369v-181.55h8.8v181.55zM299.04 1369v-190.01h8.8v190.01zM322.16 1369v-152.59h8.8v152.59zM345.29 1369v-145.43h8.8v145.43zM368.41 1369v-175.69h8.8v175.69zM391.54 1369v-168.53h8.8v168.53zM414.66 1369v-181.87h8.8v181.87zM437.79 1369v-169.84h8.8v169.84zM460.91 1369v-182.85h8.8v182.85zM484.04 1369v-173.74h8.8v173.74zM507.16 1369v-137.63h8.8v137.63zM530.29 1369v-174.72h8.8v174.72zM553.41 1369v-89.15h8.8v89.15zM576.54 1369v-156.82h8.8v156.82zM599.66 1369v-171.79h8.8v171.79zM622.79 1369v-99.23h8.8v99.23zM645.91 1369v-153.57h8.8v153.57zM669.04 1369v-127.54h8.8v127.54zM692.16 1369v-193.91h8.8v193.91zM715.29 1369v-168.53h8.8v168.53zM738.41 1369v-154.54h8.8v154.54zM761.54 1369v-160.73h8.8v160.73z" fill="#C64E4B"/>
<path d="M83.75 1141.25V1369H777.5" fill="none" stroke="#868686" stroke-width="1"/>
<path d="M79.75 1369H83.75M79.75 1336.46H83.75M79.75 1303.93H83.75M79.75 1271.39H83.75M79.75 1238.86H83.75M79.75 1206.32H83.75M79.75 1173.79H83.75M79.75 1141.25H83.75M83.75 1369V1373.5M106.88 1369V1373.5M130 1369V1373.5M153.12 1369V1373.5M176.25 1369V1373.5M199.38 1369V1373.5M222.5 1369V1373.5M245.62 1369V1373.5M268.75 1369V1373.5M291.88 1369V1373.5M315 1369V1373.5M338.12 1369V1373.5M361.25 1369V1373.5M384.38 1369V1373.5M407.5 1369V1373.5M430.62 1369V1373.5M453.75 1369V1373.5M476.88 1369V1373.5M500 1369V1373.5M523.12 1369V1373.5M546.25 1369V1373.5M569.38 1369V1373.5M592.5 1369V1373.5M615.62 1369V1373.5M638.75 1369V1373.5M661.88 1369V1373.5M685 1369V1373.5M708.12 1369V1373.5M731.25 1369V1373.5M754.38 1369V1373.5M777.5 1369V1373.5" fill="none" stroke="#868686" stroke-width="1"/>
<g class="tk" text-anchor="end">
<text x="73.15" y="1373.5">0</text>
<text x="73.15" y="1340.96">10</text>
<text x="73.15" y="1308.43">20</text>
<text x="73.15" y="1275.89">30</text>
<text x="73.15" y="1243.36">40</text>
<text x="73.15" y="1210.82">50</text>
<text x="73.15" y="1178.29">60</text>
<text x="73.15" y="1145.75">70</text>
</g>
<g class="ct" text-anchor="end">
<text transform="translate(98.11 1387.7) rotate(-49)">PL1</text>
<text transform="translate(121.24 1387.7) rotate(-49)">PL2</text>
<text transform="translate(144.36 1387.7) rotate(-49)">PL3</text>
<text transform="translate(167.49 1387.7) rotate(-49)">PL4</text>
<text transform="translate(190.61 1387.7) rotate(-49)">PL5</text>
<text transform="translate(213.74 1387.7) rotate(-49)">PL6</text>
<text transform="translate(236.86 1387.7) rotate(-49)">PL7</text>
<text transform="translate(259.99 1387.7) rotate(-49)">PL8</text>
<text transform="translate(283.11 1387.7) rotate(-49)">PL9</text>
<text transform="translate(306.24 1387.7) rotate(-49)">PL10</text>
<text transform="translate(329.36 1387.7) rotate(-49)">PL11</text>
<text transform="translate(352.49 1387.7) rotate(-49)">PL12</text>
<text transform="translate(375.61 1387.7) rotate(-49)">PL13</text>
<text transform="translate(398.74 1387.7) rotate(-49)">PL14</text>
<text transform="translate(421.86 1387.7) rotate(-49)">PL15</text>
<text transform="translate(444.99 1387.7) rotate(-49)">PL16</text>
<text transform="translate(468.11 1387.7) rotate(-49)">PL17</text>
<text transform="translate(491.24 1387.7) rotate(-49)">PL18</text>
<text transform="translate(514.36 1387.7) rotate(-49)">PL19</text>
<text transform="translate(537.49 1387.7) rotate(-49)">PL20</text>
<text transform="translate(560.61 1387.7) rotate(-49)">PL21</text>
<text transform="translate(583.74 1387.7) rotate(-49)">PL22</text>
<text transform="translate(606.86 1387.7) rotate(-49)">PL23</text>
<text transform="translate(629.99 1387.7) rotate(-49)">PL24</text>
<text transform="translate(653.11 1387.7) rotate(-49)">PL25</text>
<text transform="translate(676.24 1387.7) rotate(-49)">PL26</text>
<text transform="translate(699.36 1387.7) rotate(-49)">PL27</text>
<text transform="translate(722.49 1387.7) rotate(-49)">PL28</text>
<text transform="translate(745.61 1387.7) rotate(-49)">PL29</text>
<text transform="translate(768.74 1387.7) rotate(-49)">PL30</text>
</g>
<text class="kg" transform="translate(35.6 1275) rotate(-90) scale(1.0031 1)">kg</text>
<!-- Selenomonas Ileum -->
<text class="ti" transform="translate(1180.4 812.8) scale(1.0252 1)">Selenomonas</text>
<text class="ti" transform="translate(1055.38 871.5) scale(1.0228 1)">(correlation coefficient: 0.392*)</text>
<path d="M907.5 879V1107H1606.75" fill="none" stroke="#868686" stroke-width="1"/>
<path d="M903.5 1107H907.5M903.5 1069H907.5M903.5 1031H907.5M903.5 993H907.5M903.5 955H907.5M903.5 917H907.5M903.5 879H907.5M907.5 1107V1111.5M930.81 1107V1111.5M954.12 1107V1111.5M977.42 1107V1111.5M1000.73 1107V1111.5M1024.04 1107V1111.5M1047.35 1107V1111.5M1070.66 1107V1111.5M1093.97 1107V1111.5M1117.28 1107V1111.5M1140.58 1107V1111.5M1163.89 1107V1111.5M1187.2 1107V1111.5M1210.51 1107V1111.5M1233.82 1107V1111.5M1257.12 1107V1111.5M1280.43 1107V1111.5M1303.74 1107V1111.5M1327.05 1107V1111.5M1350.36 1107V1111.5M1373.67 1107V1111.5M1396.97 1107V1111.5M1420.28 1107V1111.5M1443.59 1107V1111.5M1466.9 1107V1111.5M1490.21 1107V1111.5M1513.52 1107V1111.5M1536.83 1107V1111.5M1560.13 1107V1111.5M1583.44 1107V1111.5M1606.75 1107V1111.5" fill="none" stroke="#868686" stroke-width="1"/>
<g class="tk" text-anchor="end">
<text x="896.9" y="1111.5">0</text>
<text x="896.9" y="1073.5">50</text>
<text x="896.9" y="1035.5">100</text>
<text x="896.9" y="997.5">150</text>
<text x="896.9" y="959.5">200</text>
<text x="896.9" y="921.5">250</text>
<text x="896.9" y="883.5">300</text>
</g>
<g class="ct" text-anchor="end">
<text transform="translate(921.95 1125.7) rotate(-49)">PL1</text>
<text transform="translate(945.26 1125.7) rotate(-49)">PL2</text>
<text transform="translate(968.57 1125.7) rotate(-49)">PL3</text>
<text transform="translate(991.88 1125.7) rotate(-49)">PL4</text>
<text transform="translate(1015.19 1125.7) rotate(-49)">PL5</text>
<text transform="translate(1038.5 1125.7) rotate(-49)">PL6</text>
<text transform="translate(1061.8 1125.7) rotate(-49)">PL7</text>
<text transform="translate(1085.11 1125.7) rotate(-49)">PL8</text>
<text transform="translate(1108.42 1125.7) rotate(-49)">PL9</text>
<text transform="translate(1131.73 1125.7) rotate(-49)">PL10</text>
<text transform="translate(1155.04 1125.7) rotate(-49)">PL11</text>
<text transform="translate(1178.35 1125.7) rotate(-49)">PL12</text>
<text transform="translate(1201.65 1125.7) rotate(-49)">PL13</text>
<text transform="translate(1224.96 1125.7) rotate(-49)">PL14</text>
<text transform="translate(1248.27 1125.7) rotate(-49)">PL15</text>
<text transform="translate(1271.58 1125.7) rotate(-49)">PL16</text>
<text transform="translate(1294.89 1125.7) rotate(-49)">PL17</text>
<text transform="translate(1318.2 1125.7) rotate(-49)">PL18</text>
<text transform="translate(1341.5 1125.7) rotate(-49)">PL19</text>
<text transform="translate(1364.81 1125.7) rotate(-49)">PL20</text>
<text transform="translate(1388.12 1125.7) rotate(-49)">PL21</text>
<text transform="translate(1411.43 1125.7) rotate(-49)">PL22</text>
<text transform="translate(1434.74 1125.7) rotate(-49)">PL23</text>
<text transform="translate(1458.05 1125.7) rotate(-49)">PL24</text>
<text transform="translate(1481.35 1125.7) rotate(-49)">PL25</text>
<text transform="translate(1504.66 1125.7) rotate(-49)">PL26</text>
<text transform="translate(1527.97 1125.7) rotate(-49)">PL27</text>
<text transform="translate(1551.28 1125.7) rotate(-49)">PL28</text>
<text transform="translate(1574.59 1125.7) rotate(-49)">PL29</text>
<text transform="translate(1597.9 1125.7) rotate(-49)">PL30</text>
</g>
<polyline points="919.15,1000.75 942.46,1108.5 965.77,1108.5 989.08,1099.5 1012.39,1106.75 1035.7,972.75 1059,892 1082.31,1108.5 1105.62,1108.5 1128.93,1042.5 1152.24,1098.5 1175.55,1073.25 1198.85,1108.5 1222.16,1037.5 1245.47,1084.5 1268.78,1031.5 1292.09,1075.5 1315.4,1086.75 1338.7,1107.5 1362.01,1105.75 1385.32,1105.75 1408.63,996 1431.94,1105.75 1455.25,1107.5 1478.55,1093.75 1501.86,1105.75 1525.17,1056.75 1548.48,1080.5 1571.79,1049.25 1595.1,1103.25" fill="none" stroke="#4672AE" stroke-width="1.75" stroke-dasharray="5.2 2.8"/>
<path d="M919.15 998.25L921.65 1000.75L919.15 1003.25L916.65 1000.75ZM942.46 1106L944.96 1108.5L942.46 1111L939.96 1108.5ZM965.77 1106L968.27 1108.5L965.77 1111L963.27 1108.5ZM989.08 1097L991.58 1099.5L989.08 1102L986.58 1099.5ZM1012.39 1104.25L1014.89 1106.75L1012.39 1109.25L1009.89 1106.75ZM1035.7 970.25L1038.2 972.75L1035.7 975.25L1033.2 972.75ZM1059 889.5L1061.5 892L1059 894.5L1056.5 892ZM1082.31 1106L1084.81 1108.5L1082.31 1111L1079.81 1108.5ZM1105.62 1106L1108.12 1108.5L1105.62 1111L1103.12 1108.5ZM1128.93 1040L1131.43 1042.5L1128.93 1045L1126.43 1042.5ZM1152.24 1096L1154.74 1098.5L1152.24 1101L1149.74 1098.5ZM1175.55 1070.75L1178.05 1073.25L1175.55 1075.75L1173.05 1073.25ZM1198.85 1106L1201.35 1108.5L1198.85 1111L1196.35 1108.5ZM1222.16 1035L1224.66 1037.5L1222.16 1040L1219.66 1037.5ZM1245.47 1082L1247.97 1084.5L1245.47 1087L1242.97 1084.5ZM1268.78 1029L1271.28 1031.5L1268.78 1034L1266.28 1031.5ZM1292.09 1073L1294.59 1075.5L1292.09 1078L1289.59 1075.5ZM1315.4 1084.25L1317.9 1086.75L1315.4 1089.25L1312.9 1086.75ZM1338.7 1105L1341.2 1107.5L1338.7 1110L1336.2 1107.5ZM1362.01 1103.25L1364.51 1105.75L1362.01 1108.25L1359.51 1105.75ZM1385.32 1103.25L1387.82 1105.75L1385.32 1108.25L1382.82 1105.75ZM1408.63 993.5L1411.13 996L1408.63 998.5L1406.13 996ZM1431.94 1103.25L1434.44 1105.75L1431.94 1108.25L1429.44 1105.75ZM1455.25 1105L1457.75 1107.5L1455.25 1110L1452.75 1107.5ZM1478.55 1091.25L1481.05 1093.75L1478.55 1096.25L1476.05 1093.75ZM1501.86 1103.25L1504.36 1105.75L1501.86 1108.25L1499.36 1105.75ZM1525.17 1054.25L1527.67 1056.75L1525.17 1059.25L1522.67 1056.75ZM1548.48 1078L1550.98 1080.5L1548.48 1083L1545.98 1080.5ZM1571.79 1046.75L1574.29 1049.25L1571.79 1051.75L1569.29 1049.25ZM1595.1 1100.75L1597.6 1103.25L1595.1 1105.75L1592.6 1103.25Z" fill="#4176C0" stroke="#4176C0" stroke-width="2.2" stroke-linejoin="round"/>
<text class="yl" transform="translate(861.4 1024.99) rotate(-90) scale(0.9933 1)">OTUs</text>
<text class="sd" transform="translate(1635.7 1108.15) rotate(-90) scale(0.9526 1)">Ileum</text>
<path d="M915.23 1369v-154.54h8.8v154.54zM938.48 1369v-158.77h8.8v158.77zM961.73 1369v-135.35h8.8v135.35zM984.98 1369v-123.31h8.8v123.31zM1008.23 1369v-165.61h8.8v165.61zM1031.47 1369v-200.09h8.8v200.09zM1054.72 1369v-190.98h8.8v190.98zM1077.97 1369v-140.55h8.8v140.55zM1101.22 1369v-181.55h8.8v181.55zM1124.47 1369v-190.01h8.8v190.01zM1147.72 1369v-152.59h8.8v152.59zM1170.97 1369v-145.43h8.8v145.43zM1194.22 1369v-175.69h8.8v175.69zM1217.47 1369v-168.53h8.8v168.53zM1240.72 1369v-181.87h8.8v181.87zM1263.97 1369v-169.84h8.8v169.84zM1287.22 1369v-182.85h8.8v182.85zM1310.47 1369v-173.74h8.8v173.74zM1333.72 1369v-137.63h8.8v137.63zM1356.97 1369v-174.72h8.8v174.72zM1380.22 1369v-89.15h8.8v89.15zM1403.47 1369v-156.82h8.8v156.82zM1426.72 1369v-171.79h8.8v171.79zM1449.97 1369v-99.23h8.8v99.23zM1473.22 1369v-153.57h8.8v153.57zM1496.47 1369v-127.54h8.8v127.54zM1519.72 1369v-193.91h8.8v193.91zM1542.97 1369v-168.53h8.8v168.53zM1566.22 1369v-154.54h8.8v154.54zM1589.47 1369v-160.73h8.8v160.73z" fill="#C64E4B"/>
<path d="M908 1141.25V1369H1605.5" fill="none" stroke="#868686" stroke-width="1"/>
<path d="M904 1369H908M904 1336.46H908M904 1303.93H908M904 1271.39H908M904 1238.86H908M904 1206.32H908M904 1173.79H908M904 1141.25H908M908 1369V1373.5M931.25 1369V1373.5M954.5 1369V1373.5M977.75 1369V1373.5M1001 1369V1373.5M1024.25 1369V1373.5M1047.5 1369V1373.5M1070.75 1369V1373.5M1094 1369V1373.5M1117.25 1369V1373.5M1140.5 1369V1373.5M1163.75 1369V1373.5M1187 1369V1373.5M1210.25 1369V1373.5M1233.5 1369V1373.5M1256.75 1369V1373.5M1280 1369V1373.5M1303.25 1369V1373.5M1326.5 1369V1373.5M1349.75 1369V1373.5M1373 1369V1373.5M1396.25 1369V1373.5M1419.5 1369V1373.5M1442.75 1369V1373.5M1466 1369V1373.5M1489.25 1369V1373.5M1512.5 1369V1373.5M1535.75 1369V1373.5M1559 1369V1373.5M1582.25 1369V1373.5M1605.5 1369V1373.5" fill="none" stroke="#868686" stroke-width="1"/>
<g class="tk" text-anchor="end">
<text x="897.4" y="1373.5">0</text>
<text x="897.4" y="1340.96">10</text>
<text x="897.4" y="1308.43">20</text>
<text x="897.4" y="1275.89">30</text>
<text x="897.4" y="1243.36">40</text>
<text x="897.4" y="1210.82">50</text>
<text x="897.4" y="1178.29">60</text>
<text x="897.4" y="1145.75">70</text>
</g>
<g class="ct" text-anchor="end">
<text transform="translate(922.42 1387.7) rotate(-49)">PL1</text>
<text transform="translate(945.67 1387.7) rotate(-49)">PL2</text>
<text transform="translate(968.92 1387.7) rotate(-49)">PL3</text>
<text transform="translate(992.17 1387.7) rotate(-49)">PL4</text>
<text transform="translate(1015.42 1387.7) rotate(-49)">PL5</text>
<text transform="translate(1038.67 1387.7) rotate(-49)">PL6</text>
<text transform="translate(1061.92 1387.7) rotate(-49)">PL7</text>
<text transform="translate(1085.17 1387.7) rotate(-49)">PL8</text>
<text transform="translate(1108.42 1387.7) rotate(-49)">PL9</text>
<text transform="translate(1131.67 1387.7) rotate(-49)">PL10</text>
<text transform="translate(1154.92 1387.7) rotate(-49)">PL11</text>
<text transform="translate(1178.17 1387.7) rotate(-49)">PL12</text>
<text transform="translate(1201.42 1387.7) rotate(-49)">PL13</text>
<text transform="translate(1224.67 1387.7) rotate(-49)">PL14</text>
<text transform="translate(1247.92 1387.7) rotate(-49)">PL15</text>
<text transform="translate(1271.17 1387.7) rotate(-49)">PL16</text>
<text transform="translate(1294.42 1387.7) rotate(-49)">PL17</text>
<text transform="translate(1317.67 1387.7) rotate(-49)">PL18</text>
<text transform="translate(1340.92 1387.7) rotate(-49)">PL19</text>
<text transform="translate(1364.17 1387.7) rotate(-49)">PL20</text>
<text transform="translate(1387.42 1387.7) rotate(-49)">PL21</text>
<text transform="translate(1410.67 1387.7) rotate(-49)">PL22</text>
<text transform="translate(1433.92 1387.7) rotate(-49)">PL23</text>
<text transform="translate(1457.17 1387.7) rotate(-49)">PL24</text>
<text transform="translate(1480.42 1387.7) rotate(-49)">PL25</text>
<text transform="translate(1503.67 1387.7) rotate(-49)">PL26</text>
<text transform="translate(1526.92 1387.7) rotate(-49)">PL27</text>
<text transform="translate(1550.17 1387.7) rotate(-49)">PL28</text>
<text transform="translate(1573.42 1387.7) rotate(-49)">PL29</text>
<text transform="translate(1596.67 1387.7) rotate(-49)">PL30</text>
</g>
<text class="kg" transform="translate(861.4 1275) rotate(-90) scale(1.0031 1)">kg</text>
<!-- Lactobacillus Cecum -->
<text class="ti" transform="translate(360.9 1511) scale(1.0140 1)">Lactobacillus</text>
<text class="ti" transform="translate(230.18 1568.7) scale(1.0223 1)">(correlation coefficient: -0.380*)</text>
<path d="M88.75 1569V1796.5H778.4" fill="none" stroke="#868686" stroke-width="1"/>
<path d="M84.75 1796.5H88.75M84.75 1773.75H88.75M84.75 1751H88.75M84.75 1728.25H88.75M84.75 1705.5H88.75M84.75 1682.75H88.75M84.75 1660H88.75M84.75 1637.25H88.75M84.75 1614.5H88.75M84.75 1591.75H88.75M84.75 1569H88.75M88.75 1796.5V1801M111.74 1796.5V1801M134.73 1796.5V1801M157.72 1796.5V1801M180.7 1796.5V1801M203.69 1796.5V1801M226.68 1796.5V1801M249.67 1796.5V1801M272.66 1796.5V1801M295.64 1796.5V1801M318.63 1796.5V1801M341.62 1796.5V1801M364.61 1796.5V1801M387.6 1796.5V1801M410.59 1796.5V1801M433.57 1796.5V1801M456.56 1796.5V1801M479.55 1796.5V1801M502.54 1796.5V1801M525.53 1796.5V1801M548.52 1796.5V1801M571.5 1796.5V1801M594.49 1796.5V1801M617.48 1796.5V1801M640.47 1796.5V1801M663.46 1796.5V1801M686.45 1796.5V1801M709.43 1796.5V1801M732.42 1796.5V1801M755.41 1796.5V1801M778.4 1796.5V1801" fill="none" stroke="#868686" stroke-width="1"/>
<g class="tk" text-anchor="end">
<text x="78.15" y="1801">0</text>
<text x="78.15" y="1778.25">2000</text>
<text x="78.15" y="1755.5">4000</text>
<text x="78.15" y="1732.75">6000</text>
<text x="78.15" y="1710">8000</text>
<text x="78.15" y="1687.25">10000</text>
<text x="78.15" y="1664.5">12000</text>
<text x="78.15" y="1641.75">14000</text>
<text x="78.15" y="1619">16000</text>
<text x="78.15" y="1596.25">18000</text>
<text x="78.15" y="1573.5">20000</text>
</g>
<g class="ct" text-anchor="end">
<text transform="translate(103.04 1815.2) rotate(-49)">PL1</text>
<text transform="translate(126.03 1815.2) rotate(-49)">PL2</text>
<text transform="translate(149.02 1815.2) rotate(-49)">PL3</text>
<text transform="translate(172.01 1815.2) rotate(-49)">PL4</text>
<text transform="translate(195 1815.2) rotate(-49)">PL5</text>
<text transform="translate(217.99 1815.2) rotate(-49)">PL6</text>
<text transform="translate(240.97 1815.2) rotate(-49)">PL7</text>
<text transform="translate(263.96 1815.2) rotate(-49)">PL8</text>
<text transform="translate(286.95 1815.2) rotate(-49)">PL9</text>
<text transform="translate(309.94 1815.2) rotate(-49)">PL10</text>
<text transform="translate(332.93 1815.2) rotate(-49)">PL11</text>
<text transform="translate(355.92 1815.2) rotate(-49)">PL12</text>
<text transform="translate(378.9 1815.2) rotate(-49)">PL13</text>
<text transform="translate(401.89 1815.2) rotate(-49)">PL14</text>
<text transform="translate(424.88 1815.2) rotate(-49)">PL15</text>
<text transform="translate(447.87 1815.2) rotate(-49)">PL16</text>
<text transform="translate(470.86 1815.2) rotate(-49)">PL17</text>
<text transform="translate(493.85 1815.2) rotate(-49)">PL18</text>
<text transform="translate(516.83 1815.2) rotate(-49)">PL19</text>
<text transform="translate(539.82 1815.2) rotate(-49)">PL20</text>
<text transform="translate(562.81 1815.2) rotate(-49)">PL21</text>
<text transform="translate(585.8 1815.2) rotate(-49)">PL22</text>
<text transform="translate(608.79 1815.2) rotate(-49)">PL23</text>
<text transform="translate(631.78 1815.2) rotate(-49)">PL24</text>
<text transform="translate(654.76 1815.2) rotate(-49)">PL25</text>
<text transform="translate(677.75 1815.2) rotate(-49)">PL26</text>
<text transform="translate(700.74 1815.2) rotate(-49)">PL27</text>
<text transform="translate(723.73 1815.2) rotate(-49)">PL28</text>
<text transform="translate(746.72 1815.2) rotate(-49)">PL29</text>
<text transform="translate(769.71 1815.2) rotate(-49)">PL30</text>
</g>
<polyline points="100.24,1766.25 123.23,1638.25 146.22,1727 169.21,1732.25 192.2,1702.25 215.19,1787.25 238.17,1735 261.16,1591.75 284.15,1689.75 307.14,1745.25 330.13,1761 353.12,1700 376.1,1661.5 399.09,1657.25 422.08,1664.5 445.07,1739.25 468.06,1746.25 491.05,1651.25 514.03,1645.75 537.02,1719.75 560.01,1645.75 583,1586.75 605.99,1741.25 628.98,1670.75 651.96,1687 674.95,1662.5 697.94,1775 720.93,1711 743.92,1777.5 766.91,1700" fill="none" stroke="#4672AE" stroke-width="1.75" stroke-dasharray="5.2 2.8"/>
<path d="M100.24 1763.75L102.74 1766.25L100.24 1768.75L97.74 1766.25ZM123.23 1635.75L125.73 1638.25L123.23 1640.75L120.73 1638.25ZM146.22 1724.5L148.72 1727L146.22 1729.5L143.72 1727ZM169.21 1729.75L171.71 1732.25L169.21 1734.75L166.71 1732.25ZM192.2 1699.75L194.7 1702.25L192.2 1704.75L189.7 1702.25ZM215.19 1784.75L217.69 1787.25L215.19 1789.75L212.69 1787.25ZM238.17 1732.5L240.67 1735L238.17 1737.5L235.67 1735ZM261.16 1589.25L263.66 1591.75L261.16 1594.25L258.66 1591.75ZM284.15 1687.25L286.65 1689.75L284.15 1692.25L281.65 1689.75ZM307.14 1742.75L309.64 1745.25L307.14 1747.75L304.64 1745.25ZM330.13 1758.5L332.63 1761L330.13 1763.5L327.63 1761ZM353.12 1697.5L355.62 1700L353.12 1702.5L350.62 1700ZM376.1 1659L378.6 1661.5L376.1 1664L373.6 1661.5ZM399.09 1654.75L401.59 1657.25L399.09 1659.75L396.59 1657.25ZM422.08 1662L424.58 1664.5L422.08 1667L419.58 1664.5ZM445.07 1736.75L447.57 1739.25L445.07 1741.75L442.57 1739.25ZM468.06 1743.75L470.56 1746.25L468.06 1748.75L465.56 1746.25ZM491.05 1648.75L493.55 1651.25L491.05 1653.75L488.55 1651.25ZM514.03 1643.25L516.53 1645.75L514.03 1648.25L511.53 1645.75ZM537.02 1717.25L539.52 1719.75L537.02 1722.25L534.52 1719.75ZM560.01 1643.25L562.51 1645.75L560.01 1648.25L557.51 1645.75ZM583 1584.25L585.5 1586.75L583 1589.25L580.5 1586.75ZM605.99 1738.75L608.49 1741.25L605.99 1743.75L603.49 1741.25ZM628.98 1668.25L631.48 1670.75L628.98 1673.25L626.48 1670.75ZM651.96 1684.5L654.46 1687L651.96 1689.5L649.46 1687ZM674.95 1660L677.45 1662.5L674.95 1665L672.45 1662.5ZM697.94 1772.5L700.44 1775L697.94 1777.5L695.44 1775ZM720.93 1708.5L723.43 1711L720.93 1713.5L718.43 1711ZM743.92 1775L746.42 1777.5L743.92 1780L741.42 1777.5ZM766.91 1697.5L769.41 1700L766.91 1702.5L764.41 1700Z" fill="#4176C0" stroke="#4176C0" stroke-width="2.2" stroke-linejoin="round"/>
<text class="yl" transform="translate(35.6 1704.11) rotate(-90) scale(1.0065 1)">OTUs</text>
<text class="sd" transform="translate(813.6 1795.86) rotate(-90) scale(0.8623 1)">Cecum</text>
<path d="M97.08 2059v-154.54h8.8v154.54zM120.04 2059v-158.77h8.8v158.77zM143 2059v-135.35h8.8v135.35zM165.95 2059v-123.31h8.8v123.31zM188.91 2059v-165.61h8.8v165.61zM211.87 2059v-200.09h8.8v200.09zM234.83 2059v-190.98h8.8v190.98zM257.79 2059v-140.55h8.8v140.55zM280.75 2059v-181.55h8.8v181.55zM303.7 2059v-190.01h8.8v190.01zM326.66 2059v-152.59h8.8v152.59zM349.62 2059v-145.43h8.8v145.43zM372.58 2059v-175.69h8.8v175.69zM395.54 2059v-168.53h8.8v168.53zM418.5 2059v-181.87h8.8v181.87zM441.45 2059v-169.84h8.8v169.84zM464.41 2059v-182.85h8.8v182.85zM487.37 2059v-173.74h8.8v173.74zM510.33 2059v-137.63h8.8v137.63zM533.29 2059v-174.72h8.8v174.72zM556.25 2059v-89.15h8.8v89.15zM579.2 2059v-156.82h8.8v156.82zM602.16 2059v-171.79h8.8v171.79zM625.12 2059v-99.23h8.8v99.23zM648.08 2059v-153.57h8.8v153.57zM671.04 2059v-127.54h8.8v127.54zM694 2059v-193.91h8.8v193.91zM716.95 2059v-168.53h8.8v168.53zM739.91 2059v-154.54h8.8v154.54zM762.87 2059v-160.73h8.8v160.73z" fill="#C64E4B"/>
<path d="M90 1831.25V2059H778.75" fill="none" stroke="#868686" stroke-width="1"/>
<path d="M86 2059H90M86 2026.46H90M86 1993.93H90M86 1961.39H90M86 1928.86H90M86 1896.32H90M86 1863.79H90M86 1831.25H90M90 2059V2063.5M112.96 2059V2063.5M135.92 2059V2063.5M158.88 2059V2063.5M181.83 2059V2063.5M204.79 2059V2063.5M227.75 2059V2063.5M250.71 2059V2063.5M273.67 2059V2063.5M296.62 2059V2063.5M319.58 2059V2063.5M342.54 2059V2063.5M365.5 2059V2063.5M388.46 2059V2063.5M411.42 2059V2063.5M434.38 2059V2063.5M457.33 2059V2063.5M480.29 2059V2063.5M503.25 2059V2063.5M526.21 2059V2063.5M549.17 2059V2063.5M572.12 2059V2063.5M595.08 2059V2063.5M618.04 2059V2063.5M641 2059V2063.5M663.96 2059V2063.5M686.92 2059V2063.5M709.88 2059V2063.5M732.83 2059V2063.5M755.79 2059V2063.5M778.75 2059V2063.5" fill="none" stroke="#868686" stroke-width="1"/>
<g class="tk" text-anchor="end">
<text x="79.4" y="2063.5">0</text>
<text x="79.4" y="2030.96">10</text>
<text x="79.4" y="1998.43">20</text>
<text x="79.4" y="1965.89">30</text>
<text x="79.4" y="1933.36">40</text>
<text x="79.4" y="1900.82">50</text>
<text x="79.4" y="1868.29">60</text>
<text x="79.4" y="1835.75">70</text>
</g>
<g class="ct" text-anchor="end">
<text transform="translate(104.28 2077.7) rotate(-49)">PL1</text>
<text transform="translate(127.24 2077.7) rotate(-49)">PL2</text>
<text transform="translate(150.2 2077.7) rotate(-49)">PL3</text>
<text transform="translate(173.15 2077.7) rotate(-49)">PL4</text>
<text transform="translate(196.11 2077.7) rotate(-49)">PL5</text>
<text transform="translate(219.07 2077.7) rotate(-49)">PL6</text>
<text transform="translate(242.03 2077.7) rotate(-49)">PL7</text>
<text transform="translate(264.99 2077.7) rotate(-49)">PL8</text>
<text transform="translate(287.95 2077.7) rotate(-49)">PL9</text>
<text transform="translate(310.9 2077.7) rotate(-49)">PL10</text>
<text transform="translate(333.86 2077.7) rotate(-49)">PL11</text>
<text transform="translate(356.82 2077.7) rotate(-49)">PL12</text>
<text transform="translate(379.78 2077.7) rotate(-49)">PL13</text>
<text transform="translate(402.74 2077.7) rotate(-49)">PL14</text>
<text transform="translate(425.7 2077.7) rotate(-49)">PL15</text>
<text transform="translate(448.65 2077.7) rotate(-49)">PL16</text>
<text transform="translate(471.61 2077.7) rotate(-49)">PL17</text>
<text transform="translate(494.57 2077.7) rotate(-49)">PL18</text>
<text transform="translate(517.53 2077.7) rotate(-49)">PL19</text>
<text transform="translate(540.49 2077.7) rotate(-49)">PL20</text>
<text transform="translate(563.45 2077.7) rotate(-49)">PL21</text>
<text transform="translate(586.4 2077.7) rotate(-49)">PL22</text>
<text transform="translate(609.36 2077.7) rotate(-49)">PL23</text>
<text transform="translate(632.32 2077.7) rotate(-49)">PL24</text>
<text transform="translate(655.28 2077.7) rotate(-49)">PL25</text>
<text transform="translate(678.24 2077.7) rotate(-49)">PL26</text>
<text transform="translate(701.2 2077.7) rotate(-49)">PL27</text>
<text transform="translate(724.15 2077.7) rotate(-49)">PL28</text>
<text transform="translate(747.11 2077.7) rotate(-49)">PL29</text>
<text transform="translate(770.07 2077.7) rotate(-49)">PL30</text>
</g>
<text class="kg" transform="translate(35.6 1954.1) rotate(-90) scale(1.0000 1)">kg</text>
<!-- Lactobacillus Colon -->
<text class="ti" transform="translate(1187.85 1511) scale(1.0157 1)">Lactobacillus</text>
<text class="ti" transform="translate(1048.18 1568.7) scale(1.0206 1)">(correlation coefficient: -0.556**)</text>
<path d="M910 1561V1788.25H1605.25" fill="none" stroke="#868686" stroke-width="1"/>
<path d="M906 1788.25H910M906 1742.8H910M906 1697.35H910M906 1651.9H910M906 1606.45H910M906 1561H910M910 1788.25V1792.75M933.17 1788.25V1792.75M956.35 1788.25V1792.75M979.52 1788.25V1792.75M1002.7 1788.25V1792.75M1025.88 1788.25V1792.75M1049.05 1788.25V1792.75M1072.22 1788.25V1792.75M1095.4 1788.25V1792.75M1118.58 1788.25V1792.75M1141.75 1788.25V1792.75M1164.92 1788.25V1792.75M1188.1 1788.25V1792.75M1211.28 1788.25V1792.75M1234.45 1788.25V1792.75M1257.62 1788.25V1792.75M1280.8 1788.25V1792.75M1303.97 1788.25V1792.75M1327.15 1788.25V1792.75M1350.33 1788.25V1792.75M1373.5 1788.25V1792.75M1396.67 1788.25V1792.75M1419.85 1788.25V1792.75M1443.03 1788.25V1792.75M1466.2 1788.25V1792.75M1489.38 1788.25V1792.75M1512.55 1788.25V1792.75M1535.72 1788.25V1792.75M1558.9 1788.25V1792.75M1582.08 1788.25V1792.75M1605.25 1788.25V1792.75" fill="none" stroke="#868686" stroke-width="1"/>
<g class="tk" text-anchor="end">
<text x="899.4" y="1792.75">0</text>
<text x="899.4" y="1747.3">5000</text>
<text x="899.4" y="1701.85">10000</text>
<text x="899.4" y="1656.4">15000</text>
<text x="899.4" y="1610.95">20000</text>
<text x="899.4" y="1565.5">25000</text>
</g>
<g class="ct" text-anchor="end">
<text transform="translate(924.39 1806.95) rotate(-49)">PL1</text>
<text transform="translate(947.56 1806.95) rotate(-49)">PL2</text>
<text transform="translate(970.74 1806.95) rotate(-49)">PL3</text>
<text transform="translate(993.91 1806.95) rotate(-49)">PL4</text>
<text transform="translate(1017.09 1806.95) rotate(-49)">PL5</text>
<text transform="translate(1040.26 1806.95) rotate(-49)">PL6</text>
<text transform="translate(1063.44 1806.95) rotate(-49)">PL7</text>
<text transform="translate(1086.61 1806.95) rotate(-49)">PL8</text>
<text transform="translate(1109.79 1806.95) rotate(-49)">PL9</text>
<text transform="translate(1132.96 1806.95) rotate(-49)">PL10</text>
<text transform="translate(1156.14 1806.95) rotate(-49)">PL11</text>
<text transform="translate(1179.31 1806.95) rotate(-49)">PL12</text>
<text transform="translate(1202.49 1806.95) rotate(-49)">PL13</text>
<text transform="translate(1225.66 1806.95) rotate(-49)">PL14</text>
<text transform="translate(1248.84 1806.95) rotate(-49)">PL15</text>
<text transform="translate(1272.01 1806.95) rotate(-49)">PL16</text>
<text transform="translate(1295.19 1806.95) rotate(-49)">PL17</text>
<text transform="translate(1318.36 1806.95) rotate(-49)">PL18</text>
<text transform="translate(1341.54 1806.95) rotate(-49)">PL19</text>
<text transform="translate(1364.71 1806.95) rotate(-49)">PL20</text>
<text transform="translate(1387.89 1806.95) rotate(-49)">PL21</text>
<text transform="translate(1411.06 1806.95) rotate(-49)">PL22</text>
<text transform="translate(1434.24 1806.95) rotate(-49)">PL23</text>
<text transform="translate(1457.41 1806.95) rotate(-49)">PL24</text>
<text transform="translate(1480.59 1806.95) rotate(-49)">PL25</text>
<text transform="translate(1503.76 1806.95) rotate(-49)">PL26</text>
<text transform="translate(1526.94 1806.95) rotate(-49)">PL27</text>
<text transform="translate(1550.11 1806.95) rotate(-49)">PL28</text>
<text transform="translate(1573.29 1806.95) rotate(-49)">PL29</text>
<text transform="translate(1596.46 1806.95) rotate(-49)">PL30</text>
</g>
<polyline points="921.59,1731.75 944.76,1701.75 967.94,1725.5 991.11,1727.75 1014.29,1676.25 1037.46,1780 1060.64,1761.75 1083.81,1637.25 1106.99,1664 1130.16,1718.75 1153.34,1756.75 1176.51,1756.75 1199.69,1774.25 1222.86,1665.25 1246.04,1757 1269.21,1762.75 1292.39,1752.75 1315.56,1692.25 1338.74,1664 1361.91,1765 1385.09,1652.25 1408.26,1727.75 1431.44,1755.75 1454.61,1713.5 1477.79,1593.75 1500.96,1664 1524.14,1772 1547.31,1754 1570.49,1748.75 1593.66,1751" fill="none" stroke="#4672AE" stroke-width="1.75" stroke-dasharray="5.2 2.8"/>
<path d="M921.59 1729.25L924.09 1731.75L921.59 1734.25L919.09 1731.75ZM944.76 1699.25L947.26 1701.75L944.76 1704.25L942.26 1701.75ZM967.94 1723L970.44 1725.5L967.94 1728L965.44 1725.5ZM991.11 1725.25L993.61 1727.75L991.11 1730.25L988.61 1727.75ZM1014.29 1673.75L1016.79 1676.25L1014.29 1678.75L1011.79 1676.25ZM1037.46 1777.5L1039.96 1780L1037.46 1782.5L1034.96 1780ZM1060.64 1759.25L1063.14 1761.75L1060.64 1764.25L1058.14 1761.75ZM1083.81 1634.75L1086.31 1637.25L1083.81 1639.75L1081.31 1637.25ZM1106.99 1661.5L1109.49 1664L1106.99 1666.5L1104.49 1664ZM1130.16 1716.25L1132.66 1718.75L1130.16 1721.25L1127.66 1718.75ZM1153.34 1754.25L1155.84 1756.75L1153.34 1759.25L1150.84 1756.75ZM1176.51 1754.25L1179.01 1756.75L1176.51 1759.25L1174.01 1756.75ZM1199.69 1771.75L1202.19 1774.25L1199.69 1776.75L1197.19 1774.25ZM1222.86 1662.75L1225.36 1665.25L1222.86 1667.75L1220.36 1665.25ZM1246.04 1754.5L1248.54 1757L1246.04 1759.5L1243.54 1757ZM1269.21 1760.25L1271.71 1762.75L1269.21 1765.25L1266.71 1762.75ZM1292.39 1750.25L1294.89 1752.75L1292.39 1755.25L1289.89 1752.75ZM1315.56 1689.75L1318.06 1692.25L1315.56 1694.75L1313.06 1692.25ZM1338.74 1661.5L1341.24 1664L1338.74 1666.5L1336.24 1664ZM1361.91 1762.5L1364.41 1765L1361.91 1767.5L1359.41 1765ZM1385.09 1649.75L1387.59 1652.25L1385.09 1654.75L1382.59 1652.25ZM1408.26 1725.25L1410.76 1727.75L1408.26 1730.25L1405.76 1727.75ZM1431.44 1753.25L1433.94 1755.75L1431.44 1758.25L1428.94 1755.75ZM1454.61 1711L1457.11 1713.5L1454.61 1716L1452.11 1713.5ZM1477.79 1591.25L1480.29 1593.75L1477.79 1596.25L1475.29 1593.75ZM1500.96 1661.5L1503.46 1664L1500.96 1666.5L1498.46 1664ZM1524.14 1769.5L1526.64 1772L1524.14 1774.5L1521.64 1772ZM1547.31 1751.5L1549.81 1754L1547.31 1756.5L1544.81 1754ZM1570.49 1746.25L1572.99 1748.75L1570.49 1751.25L1567.99 1748.75ZM1593.66 1748.5L1596.16 1751L1593.66 1753.5L1591.16 1751Z" fill="#4176C0" stroke="#4176C0" stroke-width="2.2" stroke-linejoin="round"/>
<text class="yl" transform="translate(858.3 1699.23) rotate(-90) scale(0.9270 1)">OTUs</text>
<text class="sd" transform="translate(1641.1 1792.78) rotate(-90) scale(0.8842 1)">Colon</text>
<path d="M915.21 2058.75v-154.71h8.8v154.71zM938.44 2058.75v-158.95h8.8v158.95zM961.66 2058.75v-135.5h8.8v135.5zM984.89 2058.75v-123.45h8.8v123.45zM1008.11 2058.75v-165.79h8.8v165.79zM1031.34 2058.75v-200.31h8.8v200.31zM1054.56 2058.75v-191.19h8.8v191.19zM1077.79 2058.75v-140.71h8.8v140.71zM1101.01 2058.75v-181.75h8.8v181.75zM1124.24 2058.75v-190.22h8.8v190.22zM1147.46 2058.75v-152.76h8.8v152.76zM1170.69 2058.75v-145.59h8.8v145.59zM1193.91 2058.75v-175.89h8.8v175.89zM1217.14 2058.75v-168.72h8.8v168.72zM1240.36 2058.75v-182.07h8.8v182.07zM1263.59 2058.75v-170.02h8.8v170.02zM1286.81 2058.75v-183.05h8.8v183.05zM1310.04 2058.75v-173.93h8.8v173.93zM1333.26 2058.75v-137.78h8.8v137.78zM1356.49 2058.75v-174.91h8.8v174.91zM1379.71 2058.75v-89.25h8.8v89.25zM1402.94 2058.75v-156.99h8.8v156.99zM1426.16 2058.75v-171.98h8.8v171.98zM1449.39 2058.75v-99.34h8.8v99.34zM1472.61 2058.75v-153.74h8.8v153.74zM1495.84 2058.75v-127.68h8.8v127.68zM1519.06 2058.75v-194.13h8.8v194.13zM1542.29 2058.75v-168.72h8.8v168.72zM1565.51 2058.75v-154.71h8.8v154.71zM1588.74 2058.75v-160.9h8.8v160.9z" fill="#C64E4B"/>
<path d="M908 1830.75V2058.75H1604.75" fill="none" stroke="#868686" stroke-width="1"/>
<path d="M904 2058.75H908M904 2026.18H908M904 1993.61H908M904 1961.04H908M904 1928.46H908M904 1895.89H908M904 1863.32H908M904 1830.75H908M908 2058.75V2063.25M931.23 2058.75V2063.25M954.45 2058.75V2063.25M977.67 2058.75V2063.25M1000.9 2058.75V2063.25M1024.12 2058.75V2063.25M1047.35 2058.75V2063.25M1070.58 2058.75V2063.25M1093.8 2058.75V2063.25M1117.03 2058.75V2063.25M1140.25 2058.75V2063.25M1163.47 2058.75V2063.25M1186.7 2058.75V2063.25M1209.92 2058.75V2063.25M1233.15 2058.75V2063.25M1256.38 2058.75V2063.25M1279.6 2058.75V2063.25M1302.83 2058.75V2063.25M1326.05 2058.75V2063.25M1349.28 2058.75V2063.25M1372.5 2058.75V2063.25M1395.72 2058.75V2063.25M1418.95 2058.75V2063.25M1442.18 2058.75V2063.25M1465.4 2058.75V2063.25M1488.62 2058.75V2063.25M1511.85 2058.75V2063.25M1535.08 2058.75V2063.25M1558.3 2058.75V2063.25M1581.53 2058.75V2063.25M1604.75 2058.75V2063.25" fill="none" stroke="#868686" stroke-width="1"/>
<g class="tk" text-anchor="end">
<text x="897.4" y="2063.25">0</text>
<text x="897.4" y="2030.68">10</text>
<text x="897.4" y="1998.11">20</text>
<text x="897.4" y="1965.54">30</text>
<text x="897.4" y="1932.96">40</text>
<text x="897.4" y="1900.39">50</text>
<text x="897.4" y="1867.82">60</text>
<text x="897.4" y="1835.25">70</text>
</g>
<g class="ct" text-anchor="end">
<text transform="translate(922.41 2077.45) rotate(-49)">PL1</text>
<text transform="translate(945.64 2077.45) rotate(-49)">PL2</text>
<text transform="translate(968.86 2077.45) rotate(-49)">PL3</text>
<text transform="translate(992.09 2077.45) rotate(-49)">PL4</text>
<text transform="translate(1015.31 2077.45) rotate(-49)">PL5</text>
<text transform="translate(1038.54 2077.45) rotate(-49)">PL6</text>
<text transform="translate(1061.76 2077.45) rotate(-49)">PL7</text>
<text transform="translate(1084.99 2077.45) rotate(-49)">PL8</text>
<text transform="translate(1108.21 2077.45) rotate(-49)">PL9</text>
<text transform="translate(1131.44 2077.45) rotate(-49)">PL10</text>
<text transform="translate(1154.66 2077.45) rotate(-49)">PL11</text>
<text transform="translate(1177.89 2077.45) rotate(-49)">PL12</text>
<text transform="translate(1201.11 2077.45) rotate(-49)">PL13</text>
<text transform="translate(1224.34 2077.45) rotate(-49)">PL14</text>
<text transform="translate(1247.56 2077.45) rotate(-49)">PL15</text>
<text transform="translate(1270.79 2077.45) rotate(-49)">PL16</text>
<text transform="translate(1294.01 2077.45) rotate(-49)">PL17</text>
<text transform="translate(1317.24 2077.45) rotate(-49)">PL18</text>
<text transform="translate(1340.46 2077.45) rotate(-49)">PL19</text>
<text transform="translate(1363.69 2077.45) rotate(-49)">PL20</text>
<text transform="translate(1386.91 2077.45) rotate(-49)">PL21</text>
<text transform="translate(1410.14 2077.45) rotate(-49)">PL22</text>
<text transform="translate(1433.36 2077.45) rotate(-49)">PL23</text>
<text transform="translate(1456.59 2077.45) rotate(-49)">PL24</text>
<text transform="translate(1479.81 2077.45) rotate(-49)">PL25</text>
<text transform="translate(1503.04 2077.45) rotate(-49)">PL26</text>
<text transform="translate(1526.26 2077.45) rotate(-49)">PL27</text>
<text transform="translate(1549.49 2077.45) rotate(-49)">PL28</text>
<text transform="translate(1572.71 2077.45) rotate(-49)">PL29</text>
<text transform="translate(1595.94 2077.45) rotate(-49)">PL30</text>
</g>
<text class="kg" transform="translate(858.3 1952.4) rotate(-90) scale(0.9231 1)">kg</text>
<text class="hd" transform="translate(0.3 33.3) scale(0.9574 1)">Phylum level</text>
<text class="hd" transform="translate(6.11 773.5) scale(0.9429 1)">Genus level</text>
</svg>
</body>
</html>
